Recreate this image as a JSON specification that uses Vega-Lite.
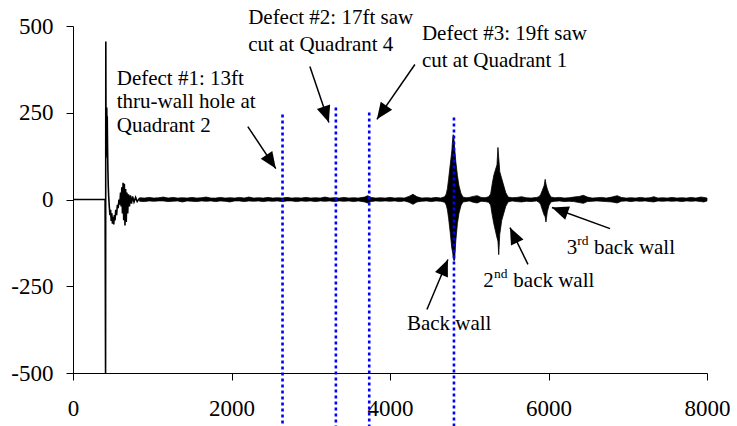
{
  "$schema": "https://vega.github.io/schema/vega-lite/v6.json",
  "autosize": "none",
  "width": 634,
  "height": 347,
  "padding": {"left": 73, "top": 26, "right": 30, "bottom": 53},
  "background": "white",
  "config": {
    "view": {"stroke": null},
    "axis": {
      "grid": false,
      "domainColor": "black",
      "tickColor": "black",
      "tickSize": 7,
      "labelFont": "Liberation Serif",
      "labelFontSize": 23,
      "labelColor": "black"
    }
  },
  "datasets": {
    "trace": [
      {"x": 0, "y": 0}, {"x": 405, "y": 0}, {"x": 411, "y": -500}, {"x": 414, "y": 455},
      {"x": 417, "y": 120}, {"x": 420, "y": 260}, {"x": 423, "y": 190}, {"x": 426, "y": 265},
      {"x": 429, "y": 200}, {"x": 432, "y": 240}, {"x": 436, "y": 150}, {"x": 440, "y": 90},
      {"x": 445, "y": 40}, {"x": 450, "y": 10}, {"x": 458, "y": -20}, {"x": 466, "y": -45},
      {"x": 474, "y": -30}, {"x": 482, "y": -62}, {"x": 490, "y": -40}, {"x": 498, "y": -70},
      {"x": 506, "y": -50}, {"x": 514, "y": -72}, {"x": 522, "y": -45}, {"x": 530, "y": -60},
      {"x": 540, "y": -30}, {"x": 550, "y": -45}, {"x": 560, "y": -15}, {"x": 570, "y": -25},
      {"x": 580, "y": 0}, {"x": 590, "y": -15}, {"x": 600, "y": 20}, {"x": 608, "y": -20},
      {"x": 616, "y": 35}, {"x": 624, "y": -40}, {"x": 632, "y": 48}, {"x": 640, "y": -60},
      {"x": 648, "y": 45}, {"x": 656, "y": -75}, {"x": 664, "y": 30}, {"x": 672, "y": -65},
      {"x": 680, "y": 20}, {"x": 690, "y": -40}, {"x": 700, "y": 15}, {"x": 712, "y": -20},
      {"x": 724, "y": 12}, {"x": 738, "y": -12}, {"x": 752, "y": 9}, {"x": 770, "y": -7},
      {"x": 790, "y": 6}, {"x": 810, "y": -6}, {"x": 840, "y": 4}
    ],
    "envelope": [
      {"x": 840, "y": 5, "y2": -5}, {"x": 900, "y": 4, "y2": -6}, {"x": 960, "y": 6, "y2": -4},
      {"x": 1020, "y": 4, "y2": -5}, {"x": 1080, "y": 5, "y2": -4}, {"x": 1140, "y": 7, "y2": -4},
      {"x": 1200, "y": 4, "y2": -6}, {"x": 1260, "y": 6, "y2": -5}, {"x": 1320, "y": 4, "y2": -4},
      {"x": 1380, "y": 5, "y2": -7}, {"x": 1440, "y": 4, "y2": -4}, {"x": 1500, "y": 6, "y2": -5},
      {"x": 1560, "y": 4, "y2": -6}, {"x": 1620, "y": 5, "y2": -4}, {"x": 1680, "y": 7, "y2": -5},
      {"x": 1740, "y": 4, "y2": -4}, {"x": 1800, "y": 4, "y2": -6}, {"x": 1860, "y": 6, "y2": -4},
      {"x": 1920, "y": 4, "y2": -5}, {"x": 1980, "y": 5, "y2": -7}, {"x": 2040, "y": 4, "y2": -4},
      {"x": 2100, "y": 6, "y2": -4}, {"x": 2160, "y": 4, "y2": -6}, {"x": 2220, "y": 7, "y2": -4},
      {"x": 2280, "y": 4, "y2": -5}, {"x": 2340, "y": 5, "y2": -4}, {"x": 2400, "y": 4, "y2": -6},
      {"x": 2460, "y": 6, "y2": -4}, {"x": 2520, "y": 4, "y2": -5}, {"x": 2580, "y": 5, "y2": -4},
      {"x": 2640, "y": 4, "y2": -6}, {"x": 2700, "y": 6, "y2": -4}, {"x": 2760, "y": 4, "y2": -4},
      {"x": 2820, "y": 5, "y2": -6}, {"x": 2880, "y": 4, "y2": -4}, {"x": 2940, "y": 6, "y2": -5},
      {"x": 3000, "y": 4, "y2": -4}, {"x": 3060, "y": 5, "y2": -6}, {"x": 3120, "y": 4, "y2": -4},
      {"x": 3180, "y": 7, "y2": -5}, {"x": 3240, "y": 4, "y2": -4}, {"x": 3300, "y": 5, "y2": -6},
      {"x": 3360, "y": 4, "y2": -4}, {"x": 3420, "y": 6, "y2": -5}, {"x": 3480, "y": 4, "y2": -4},
      {"x": 3540, "y": 5, "y2": -6}, {"x": 3600, "y": 4, "y2": -4}, {"x": 3680, "y": 7, "y2": -7},
      {"x": 3720, "y": 11, "y2": -10}, {"x": 3760, "y": 6, "y2": -6}, {"x": 3820, "y": 4, "y2": -4},
      {"x": 3880, "y": 5, "y2": -5}, {"x": 3940, "y": 4, "y2": -4}, {"x": 4000, "y": 6, "y2": -5},
      {"x": 4060, "y": 4, "y2": -4}, {"x": 4120, "y": 5, "y2": -6}, {"x": 4180, "y": 4, "y2": -4},
      {"x": 4240, "y": 9, "y2": -8}, {"x": 4290, "y": 15, "y2": -14}, {"x": 4340, "y": 8, "y2": -7},
      {"x": 4400, "y": 4, "y2": -5}, {"x": 4460, "y": 5, "y2": -4}, {"x": 4520, "y": 4, "y2": -6},
      {"x": 4580, "y": 6, "y2": -4}, {"x": 4640, "y": 4, "y2": -5}, {"x": 4690, "y": 8, "y2": -8},
      {"x": 4710, "y": 16, "y2": -16}, {"x": 4725, "y": 32, "y2": -30}, {"x": 4740, "y": 60, "y2": -55},
      {"x": 4760, "y": 100, "y2": -95}, {"x": 4780, "y": 140, "y2": -140}, {"x": 4790, "y": 172, "y2": -152},
      {"x": 4798, "y": 187, "y2": -165}, {"x": 4806, "y": 178, "y2": -176}, {"x": 4815, "y": 150, "y2": -175},
      {"x": 4830, "y": 110, "y2": -120}, {"x": 4850, "y": 70, "y2": -70}, {"x": 4870, "y": 40, "y2": -40},
      {"x": 4895, "y": 18, "y2": -18}, {"x": 4920, "y": 7, "y2": -7},
      {"x": 4960, "y": 5, "y2": -6}, {"x": 5000, "y": 6, "y2": -4}, {"x": 5050, "y": 9, "y2": -8},
      {"x": 5100, "y": 11, "y2": -10}, {"x": 5150, "y": 6, "y2": -5}, {"x": 5200, "y": 5, "y2": -6},
      {"x": 5245, "y": 8, "y2": -8}, {"x": 5270, "y": 16, "y2": -16}, {"x": 5290, "y": 45, "y2": -45},
      {"x": 5310, "y": 70, "y2": -70}, {"x": 5330, "y": 85, "y2": -90}, {"x": 5350, "y": 100, "y2": -110},
      {"x": 5362, "y": 150, "y2": -120}, {"x": 5372, "y": 120, "y2": -159}, {"x": 5385, "y": 80, "y2": -100},
      {"x": 5410, "y": 60, "y2": -60}, {"x": 5435, "y": 40, "y2": -40}, {"x": 5460, "y": 20, "y2": -20},
      {"x": 5490, "y": 7, "y2": -7}, {"x": 5540, "y": 5, "y2": -4}, {"x": 5600, "y": 6, "y2": -6},
      {"x": 5660, "y": 8, "y2": -7}, {"x": 5720, "y": 5, "y2": -5}, {"x": 5780, "y": 4, "y2": -6},
      {"x": 5850, "y": 6, "y2": -4}, {"x": 5880, "y": 8, "y2": -8}, {"x": 5900, "y": 14, "y2": -14},
      {"x": 5920, "y": 25, "y2": -28}, {"x": 5945, "y": 40, "y2": -45}, {"x": 5958, "y": 58, "y2": -50},
      {"x": 5968, "y": 45, "y2": -65}, {"x": 5985, "y": 30, "y2": -35}, {"x": 6005, "y": 18, "y2": -18},
      {"x": 6030, "y": 7, "y2": -7}, {"x": 6080, "y": 5, "y2": -5}, {"x": 6140, "y": 6, "y2": -4},
      {"x": 6200, "y": 4, "y2": -6}, {"x": 6260, "y": 5, "y2": -5}, {"x": 6320, "y": 7, "y2": -6},
      {"x": 6390, "y": 9, "y2": -9}, {"x": 6440, "y": 12, "y2": -11}, {"x": 6490, "y": 7, "y2": -6},
      {"x": 6550, "y": 4, "y2": -5}, {"x": 6610, "y": 5, "y2": -4}, {"x": 6670, "y": 6, "y2": -5},
      {"x": 6730, "y": 4, "y2": -6}, {"x": 6800, "y": 7, "y2": -7}, {"x": 6866, "y": 11, "y2": -10},
      {"x": 6920, "y": 6, "y2": -5}, {"x": 6980, "y": 4, "y2": -4}, {"x": 7040, "y": 5, "y2": -6},
      {"x": 7100, "y": 4, "y2": -4}, {"x": 7160, "y": 6, "y2": -5}, {"x": 7220, "y": 4, "y2": -4},
      {"x": 7280, "y": 5, "y2": -6}, {"x": 7330, "y": 8, "y2": -7}, {"x": 7380, "y": 4, "y2": -4},
      {"x": 7440, "y": 5, "y2": -5}, {"x": 7500, "y": 4, "y2": -4}, {"x": 7560, "y": 6, "y2": -5},
      {"x": 7620, "y": 4, "y2": -4}, {"x": 7680, "y": 5, "y2": -6}, {"x": 7740, "y": 4, "y2": -4},
      {"x": 7800, "y": 6, "y2": -5}, {"x": 7860, "y": 4, "y2": -4}, {"x": 7920, "y": 7, "y2": -6},
      {"x": 7960, "y": 6, "y2": -7}, {"x": 8000, "y": 4, "y2": -4}
    ],
    "markers": [
      {"x": 2644, "y": 245, "y2": -660},
      {"x": 3317, "y": 265, "y2": -660},
      {"x": 3738, "y": 251, "y2": -660},
      {"x": 4807, "y": 236, "y2": -660}
    ],
    "arrows": [
      {"x": 2206, "y": 210, "x2": 2559, "y2": 89, "heading": 146},
      {"x": 2989, "y": 383, "x2": 3229, "y2": 222, "heading": 161},
      {"x": 4314, "y": 389, "x2": 3835, "y2": 231, "heading": 215},
      {"x": 4466, "y": -317, "x2": 4731, "y2": -173, "heading": 23},
      {"x": 5741, "y": -187, "x2": 5514, "y2": -81, "heading": 334},
      {"x": 6777, "y": -84, "x2": 6044, "y2": -23, "heading": 290}
    ],
    "labels": [
      {"x": 552, "y": 346, "text": "Defect #1: 13ft"},
      {"x": 552, "y": 280, "text": "thru-wall hole at"},
      {"x": 552, "y": 213, "text": "Quadrant 2"},
      {"x": 2210, "y": 522, "text": "Defect #2: 17ft saw"},
      {"x": 2210, "y": 444, "text": "cut at Quadrant 4"},
      {"x": 4403, "y": 476, "text": "Defect #3: 19ft saw"},
      {"x": 4403, "y": 398, "text": "cut at Quadrant 1"},
      {"x": 4213, "y": -360, "text": "Back wall"},
      {"x": 5177, "y": -236, "text": "2"},
      {"x": 5556, "y": -236, "text": "back wall"},
      {"x": 6230, "y": -141, "text": "3"},
      {"x": 6574, "y": -141, "text": "back wall"}
    ],
    "sups": [
      {"x": 5312, "y": -216, "text": "nd"},
      {"x": 6364, "y": -121, "text": "rd"}
    ]
  },
  "encoding": {
    "x": {"field": "x", "type": "quantitative", "title": null,
      "scale": {"domain": [0, 8000], "nice": false},
      "axis": {"values": [0, 2000, 4000, 6000, 8000], "labelExpr": "'' + datum.value", "labelPadding": 17, "labelFlush": false}},
    "y": {"field": "y", "type": "quantitative", "title": null,
      "scale": {"domain": [-500, 500], "nice": false},
      "axis": {"values": [-500, -250, 0, 250, 500], "labelExpr": "'' + datum.value", "labelPadding": 13}}
  },
  "layer": [
    {
      "data": {"name": "envelope"},
      "mark": {"type": "area", "color": "black", "stroke": "black", "strokeWidth": 0.8, "opacity": 1},
      "encoding": {"y2": {"field": "y2"}}
    },
    {
      "data": {"name": "trace"},
      "mark": {"type": "line", "color": "black", "strokeWidth": 1.6},
      "encoding": {}
    },
    {
      "data": {"name": "markers"},
      "mark": {"type": "rule", "color": "#0000ff", "strokeWidth": 2.6, "strokeDash": [3, 3]},
      "encoding": {"y2": {"field": "y2"}}
    },
    {
      "data": {"name": "arrows"},
      "mark": {"type": "rule", "color": "black", "strokeWidth": 1.5},
      "encoding": {"x2": {"field": "x2"}, "y2": {"field": "y2"}}
    },
    {
      "data": {"name": "arrows"},
      "mark": {"type": "point", "shape": "M0,0L0.42,1L-0.42,1Z", "filled": true, "color": "black", "opacity": 1, "size": 1100, "strokeWidth": 0},
      "encoding": {
        "x": {"field": "x2", "type": "quantitative", "title": null},
        "y": {"field": "y2", "type": "quantitative", "title": null},
        "angle": {"field": "heading", "type": "quantitative", "scale": null}
      }
    },
    {
      "data": {"name": "labels"},
      "mark": {"type": "text", "align": "left", "baseline": "middle", "font": "Liberation Serif", "fontSize": 21, "color": "black"},
      "encoding": {"text": {"field": "text"}}
    },
    {
      "data": {"name": "sups"},
      "mark": {"type": "text", "align": "left", "baseline": "middle", "font": "Liberation Serif", "fontSize": 13.5, "color": "black"},
      "encoding": {"text": {"field": "text"}}
    }
  ]
}
